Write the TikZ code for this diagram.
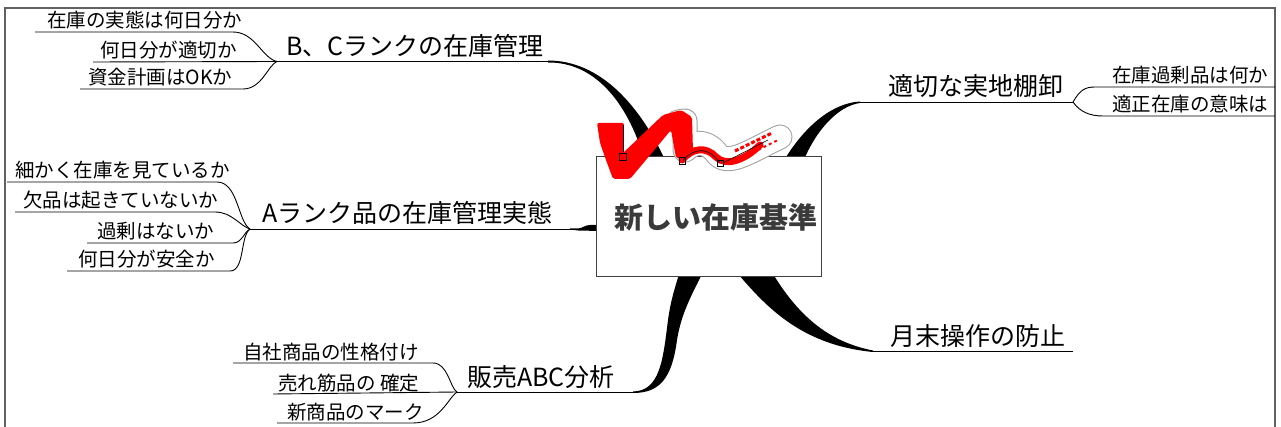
\documentclass[tikz,border=0pt]{standalone}
\usepackage{fontspec}
\setmainfont{Noto Sans CJK JP}
\definecolor{brush}{RGB}{255,0,0}
\definecolor{titleink}{RGB}{58,58,58}
\begin{document}
\begin{tikzpicture}[x=1pt,y=-1pt,
  sub/.style={font=\fontsize{19.5}{20}\selectfont, anchor=base west, inner sep=0pt},
  topic/.style={font=\fontsize{25}{26}\selectfont, anchor=base west, inner sep=0pt},
  twig/.style={line width=0.9pt, black},
  limb/.style={fill=black, draw=none},
  frameline/.style={draw=black!62, line width=2pt},
  core/.style={draw=black!75, line width=1pt, fill=white, inner sep=0pt},
  handle/.style={draw=black, line width=0.6pt}
]
\useasboundingbox (0,0) rectangle (1281,427);

% outer frame (open at the bottom)
\draw[frameline] (5,427) -- (5,8) -- (1275,8) -- (1275,427);

% junction points of the branches
\coordinate (jBC) at (277,61.5);
\coordinate (eBC) at (548,61.5);
\coordinate (jA)  at (250,229);
\coordinate (eA)  at (578,229);
\coordinate (jS)  at (457,392);
\coordinate (eS)  at (636,392);
\coordinate (jT)  at (1073,102);
\coordinate (eT)  at (860,102);
\coordinate (eM)  at (870,351);
\coordinate (fM)  at (1073,351);

% tapered main limbs
\fill[limb] (548,60.5) .. controls (600,60.5) and (640,105) .. (666,162)
   -- (645,162) .. controls (630,108) and (598,62) .. (548,62.5) -- cycle;
\fill[limb] (860,101.5) .. controls (833,103) and (805,125) .. (783,162)
   -- (803,162) .. controls (816,130) and (838,106) .. (860,103) -- cycle;
\fill[limb] (570,228.5) -- (578,228.5) .. controls (583,228) and (585,225) .. (590,225)
   -- (600,225) -- (600,231) -- (578,230.5) -- (570,229.5) -- cycle;
\fill[limb] (633,391.5) .. controls (660,391) and (663,360) .. (668,320)
   .. controls (671,298) and (676,285) .. (679,274) -- (702,274)
   .. controls (690,298) and (681,315) .. (677,340)
   .. controls (672,378) and (660,393) .. (633,393) -- cycle;
\fill[limb] (738,274) .. controls (765,305) and (800,345) .. (873,352)
   -- (873,350.5) .. controls (830,342) and (800,318) .. (773,274) -- cycle;

% B, C rank twigs
\draw[twig] (35,32) -- (233,32) .. controls (255,32) and (262,58) .. (jBC);
\draw[twig] (93,62) -- (jBC);
\draw[twig] (80,89) -- (243,89) .. controls (262,89) and (268,65) .. (jBC);
\draw[twig] (jBC) -- (eBC);

% A rank twigs
\draw[twig] (7,182) -- (217,182) .. controls (238,182) and (238,222) .. (jA);
\draw[twig] (15,212) -- (215,212) .. controls (232,212) and (240,226) .. (jA);
\draw[twig] (87,243) -- (233,243) .. controls (242,243) and (244,232) .. (jA);
\draw[twig] (67,271) -- (230,271) .. controls (245,271) and (240,236) .. (jA);
\draw[twig] (jA) -- (eA);

% sales ABC twigs
\draw[twig] (233,363) -- (433,363) .. controls (448,363) and (450,388) .. (jS);
\draw[twig] (273,394) -- (jS);
\draw[twig] (277,423) -- (413,423) .. controls (440,423) and (448,398) .. (jS);
\draw[twig] (jS) -- (eS);

% stock-taking twigs
\draw[twig] (eT) -- (jT);
\draw[twig] (jT) .. controls (1080,90) and (1085,87) .. (1095,87) -- (1275,87);
\draw[twig] (jT) .. controls (1080,112) and (1090,116) .. (1103,116) -- (1275,116);

% month-end twig
\draw[twig] (eM) -- (fM);

% central box
\node[core, minimum width=225pt, minimum height=120pt] (core) at (708.5,217) {};

% red brush ribbon over the box
\draw[gray!75, line width=25pt, line cap=round, line join=round]
  (678,122) -- (685,121) -- (685,150) .. controls (696,140) and (708,141) .. (718,155)
  .. controls (730,166) and (752,150) .. (780,137);
\draw[white, line width=23pt, line cap=round, line join=round]
  (678,122) -- (685,121) -- (685,150) .. controls (696,140) and (708,141) .. (718,155)
  .. controls (730,166) and (752,150) .. (780,137);
\fill[brush, rounded corners=2pt] (597,123) -- (624,123) -- (623,153) -- (663,115)
  -- (681,110) -- (692,117) -- (693,152) -- (686,160) -- (676,158) -- (671,130)
  -- (630,179) -- (613,179) -- (606,160) -- (600,143) -- cycle;
\draw[brush, line width=7pt, line cap=round]
  (682,160) .. controls (692,148) and (706,146) .. (716,157)
  .. controls (726,167) and (745,160) .. (760,145);
\draw[brush, line width=3pt, dash pattern=on 4pt off 2pt] (735,151) -- (772,133);
\draw[brush, line width=2pt, dash pattern=on 3pt off 3pt] (742,158) -- (778,140);
\draw[handle] (623,125) -- (623,152);
\draw[handle] (683,160) .. controls (695,148) and (708,146) .. (720,163);
\draw[handle] (723,163) -- (768,140);
\draw[handle] (619,153) rectangle (626,160);
\draw[handle] (679,157) rectangle (685,164);
\draw[handle] (717,160) rectangle (723,166);

% central title
\node[font=\fontsize{29}{30}\selectfont\bfseries, text=titleink, inner sep=0pt]
  (title) at (715.5,217) {新しい在庫基準};

% branch labels
\node[topic] (bc)    at (286,55.5) {B、Cランクの在庫管理};
\node[sub]   (b1)    at (47,28)    {在庫の実態は何日分か};
\node[sub]   (b2)    at (100,58)   {何日分が適切か};
\node[sub]   (b3)    at (88,85)    {資金計画はOKか};

\node[topic] (ar)    at (262,223)  {Aランク品の在庫管理実態};
\node[sub]   (a1)    at (15,178)   {細かく在庫を見ているか};
\node[sub]   (a2)    at (23,208)   {欠品は起きていないか};
\node[sub]   (a3)    at (97,239)   {過剰はないか};
\node[sub]   (a4)    at (78,267)   {何日分が安全か};

\node[topic] (abc)   at (467,386)  {販売ABC分析};
\node[sub]   (s1)    at (243,359)  {自社商品の性格付け};
\node[sub]   (s2)    at (278,390)  {売れ筋品の 確定};
\node[sub]   (s3)    at (287,419)  {新商品のマーク};

\node[topic] (getsu) at (890,345)  {月末操作の防止};
\node[topic] (tana)  at (888,96)   {適切な実地棚卸};
\begin{scope}
  \clip (0,0) rectangle (1274,427);
  \node[sub] (t1) at (1112,83)  {在庫過剰品は何か};
  \node[sub] (t2) at (1112,112) {適正在庫の意味は};
\end{scope}
\end{tikzpicture}
\end{document}
